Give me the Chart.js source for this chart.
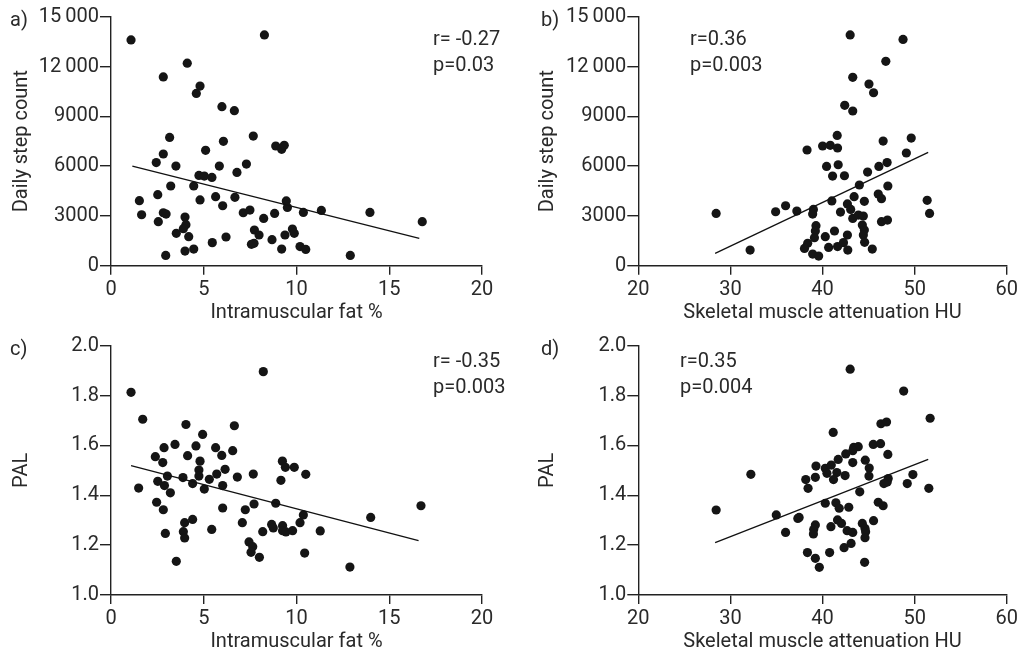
<!DOCTYPE html>
<html><head><meta charset="utf-8">
<script src="https://cdn.jsdelivr.net/npm/chart.js@4.4.1/dist/chart.umd.min.js"></script>
<style>
html,body{margin:0;padding:0;background:#fff;}
body{width:1021px;height:654px;position:relative;overflow:hidden;font-family:Roboto,sans-serif;color:#2a2a2a;}
canvas{position:absolute;}
.lbl{position:absolute;font-size:20px;line-height:26px;white-space:nowrap;color:#2a2a2a;}
</style></head><body>
<canvas id="ca" width="515" height="327" style="left:0;top:0;width:515px;height:327px"></canvas>
<canvas id="cb" width="506" height="327" style="left:515px;top:0;width:506px;height:327px"></canvas>
<canvas id="cc" width="515" height="327" style="left:0;top:327px;width:515px;height:327px"></canvas>
<canvas id="cd" width="506" height="327" style="left:515px;top:327px;width:506px;height:327px"></canvas>
<div class="lbl" style="left:10px;top:6px">a)</div>
<div class="lbl" style="left:541px;top:6px">b)</div>
<div class="lbl" style="left:10px;top:335px">c)</div>
<div class="lbl" style="left:541px;top:335px">d)</div>
<div class="lbl" style="left:433px;top:25px">r= -0.27<br>p=0.03</div>
<div class="lbl" style="left:690px;top:25px">r=0.36<br>p=0.003</div>
<div class="lbl" style="left:433px;top:347px">r= -0.35<br>p=0.003</div>
<div class="lbl" style="left:680px;top:347px">r=0.35<br>p=0.004</div>
<script>
// ---- Data ----
const fatA = [1.08,8.27,4.11,2.82,4.80,4.60,5.98,6.65,3.16,7.67,6.06,8.88,9.20,9.34,2.82,5.10,2.44,3.50,5.84,7.30,6.79,4.74,5.03,5.44,3.22,4.46,2.52,1.53,4.80,5.64,6.68,6.02,9.45,9.51,1.65,2.82,2.97,2.55,3.99,4.04,3.90,3.52,4.19,7.13,7.49,8.23,8.82,7.73,7.98,7.57,7.71,8.68,9.38,9.78,9.88,9.20,10.19,6.20,5.46,4.46,3.99,2.95,10.37,11.34,13.96,16.78,10.5,12.9];
const stepsA = [13600,13900,12200,11370,10820,10380,9580,9340,7730,7810,7490,7210,7010,7250,6730,6950,6210,6000,6000,6120,5620,5440,5400,5320,4800,4800,4280,3920,3960,4160,4120,3610,3900,3510,3070,3190,3110,2650,2930,2470,2230,1950,1750,3190,3350,2850,3150,2150,1850,1290,1350,1570,1850,2210,1950,1000,1150,1730,1390,1000,880,620,3210,3330,3210,2650,980,620];
const huB = [28.45,32.14,34.91,35.99,43.0,48.74,46.87,43.28,45.04,45.54,42.41,43.28,41.59,49.63,46.58,38.32,40.01,40.84,41.63,49.1,40.44,41.70,46.12,47.01,41.09,42.38,44.89,44.0,47.09,46.05,46.4,51.36,51.62,41.01,43.43,42.70,44.54,43.06,37.21,39.01,38.93,41.95,43.28,43.89,44.43,46.4,47.05,39.29,39.22,39.12,44.32,44.54,44.43,40.30,41.30,42.70,38.39,38.04,40.66,41.63,42.27,42.74,44.57,45.4,38.93,39.58];
const stepsB = [3150,940,3250,3610,13900,13630,12310,11350,10940,10420,9660,9320,7850,7690,7510,6970,7210,7250,7090,6790,5980,6080,5980,6210,5400,5420,5640,4860,4800,4320,4040,3940,3150,3900,4160,3720,3880,3390,3290,3390,3110,3230,2850,3050,2990,2650,2750,2410,2090,1690,2450,2150,1850,1750,2090,1850,1350,1040,1100,1150,1390,940,1410,1000,700,580];
const fatC = [1.08,8.21,1.71,4.04,6.65,4.94,3.45,2.86,4.58,5.64,6.56,2.39,4.13,5.97,2.79,4.80,9.24,9.40,9.88,4.74,6.15,5.70,7.67,3.04,3.88,4.74,6.81,5.30,2.52,9.16,4.40,2.88,6.02,1.49,5.03,3.20,2.46,2.82,6.02,7.71,7.24,8.88,3.97,4.40,7.08,2.93,3.90,3.97,5.43,8.18,8.66,8.75,9.25,9.25,9.43,9.79,10.19,7.44,7.64,7.55,8.0,3.52,10.5,10.37,11.28,14.0,16.71,10.44,12.88];
const palC = [1.813,1.896,1.705,1.684,1.679,1.644,1.604,1.591,1.598,1.591,1.579,1.555,1.559,1.560,1.531,1.537,1.537,1.512,1.512,1.501,1.504,1.485,1.485,1.477,1.471,1.477,1.473,1.464,1.456,1.460,1.447,1.439,1.439,1.429,1.425,1.410,1.372,1.342,1.349,1.365,1.342,1.368,1.290,1.303,1.290,1.247,1.254,1.229,1.263,1.254,1.283,1.269,1.278,1.258,1.253,1.258,1.290,1.213,1.194,1.171,1.151,1.135,1.484,1.321,1.257,1.311,1.358,1.168,1.112];
const huD = [28.45,32.22,34.98,35.99,37.32,43.0,48.81,51.68,46.34,46.95,41.16,45.51,46.3,43.38,43.88,43.28,42.52,41.70,47.09,44.64,43.28,39.29,40.30,40.95,45.07,40.48,41.55,42.45,45.04,38.18,39.22,41.19,38.43,47.13,47.02,46.66,49.81,49.20,51.54,44.04,40.30,41.45,41.81,42.85,46.05,46.58,37.46,41.63,42.06,39.22,39.04,39.01,40.91,42.67,43.28,44.32,44.61,44.68,44.61,45.54,43.10,42.34,38.36,40.77,39.22,39.65,44.57];
const palD = [1.341,1.484,1.321,1.251,1.307,1.906,1.818,1.709,1.687,1.694,1.652,1.604,1.607,1.592,1.595,1.579,1.566,1.544,1.564,1.541,1.531,1.517,1.508,1.521,1.509,1.488,1.491,1.479,1.477,1.463,1.472,1.463,1.428,1.467,1.453,1.447,1.483,1.447,1.428,1.414,1.368,1.370,1.348,1.352,1.372,1.358,1.311,1.301,1.287,1.281,1.263,1.245,1.274,1.258,1.251,1.287,1.267,1.254,1.230,1.298,1.207,1.190,1.170,1.170,1.147,1.111,1.131];

// regression lines (end points)
const fitAX = [1.15, 16.62], fitAY = [6000, 1650];
const fitBX = [28.34, 51.47], fitBY = [740, 6830];
const fitCX = [1.08, 16.58], fitCY = [1.519, 1.218];
const fitDX = [28.34, 51.47], fitDY = [1.210, 1.544];

// tick labels
const stepTicks = ['0','3000','6000','9000','12\u2009000','15\u2009000'];
const palTicks = ['1.0','1.2','1.4','1.6','1.8','2.0'];
const fatTicks = ['0','5','10','15','20'];
const huTicks = ['20','30','40','50','60'];

const TXT = '#2a2a2a', AX = '#222';
const FONT = {family:'Roboto, sans-serif', size:20, lineHeight:1.2};

function pts(xs, ys){ return xs.map((x,i)=>({x:x, y:ys[i]})); }

function panel(id, o){
  new Chart(document.getElementById(id), {
    type:'scatter',
    data:{datasets:[
      {data:pts(o.xs,o.ys), backgroundColor:'#151515', borderWidth:0, pointRadius:4.6, pointHoverRadius:4.6, order:2},
      {type:'line', data:pts(o.fx,o.fy), borderColor:'#111', borderWidth:1.3, pointRadius:0, fill:false, order:1}
    ]},
    options:{
      responsive:false, animation:false, devicePixelRatio:1,
      plugins:{legend:{display:false}, tooltip:{enabled:false}},
      layout:{padding:o.pad},
      scales:{
        x:{type:'linear', min:o.xMin, max:o.xMax,
           ticks:{stepSize:o.xStep, color:TXT, font:FONT, padding:3, maxRotation:0, callback:(v,i)=>o.xLabels[i]},
           grid:{display:true, drawOnChartArea:false, drawTicks:true, tickLength:9, color:AX, lineWidth:1.4},
           border:{display:true, color:AX, width:1.4},
           title:{display:true, text:o.xTitle, color:TXT, font:FONT, padding:{top:0,bottom:o.xTitlePad}},
           afterFit:s=>{s.height=o.xH;}},
        y:{type:'linear', min:o.yMin, max:o.yMax,
           ticks:{stepSize:o.yStep, color:TXT, font:FONT, padding:1, callback:(v,i)=>o.yLabels[i]},
           grid:{display:true, drawOnChartArea:false, drawTicks:true, tickLength:11, color:AX, lineWidth:1.4},
           border:{display:true, color:AX, width:1.4},
           title:{display:true, text:o.yTitle, color:TXT, font:FONT, padding:{top:o.yTitlePad,bottom:0}},
           afterFit:s=>{s.width=o.yW;}}
      }
    }
  });
}

panel('ca',{xs:fatA, ys:stepsA, fx:fitAX, fy:fitAY, xMin:0,xMax:20,xStep:5,xLabels:fatTicks,
  yMin:0,yMax:15000,yStep:3000,yLabels:stepTicks, xTitle:'Intramuscular fat %', yTitle:'Daily step count',
  pad:{left:0,right:33,top:16.7,bottom:0}, xH:61.3, yW:111, xTitlePad:2, yTitlePad:9.5});
panel('cb',{xs:huB, ys:stepsB, fx:fitBX, fy:fitBY, xMin:20,xMax:60,xStep:10,xLabels:huTicks,
  yMin:0,yMax:15000,yStep:3000,yLabels:stepTicks, xTitle:'Skeletal muscle attenuation HU', yTitle:'Daily step count',
  pad:{left:0,right:11.7,top:16.7,bottom:0}, xH:61.3, yW:123.3, xTitlePad:2, yTitlePad:21});
panel('cc',{xs:fatC, ys:palC, fx:fitCX, fy:fitCY, xMin:0,xMax:20,xStep:5,xLabels:fatTicks,
  yMin:1.0,yMax:2.0,yStep:0.2,yLabels:palTicks, xTitle:'Intramuscular fat %', yTitle:'PAL',
  pad:{left:0,right:33,top:18.7,bottom:0}, xH:59, yW:111, xTitlePad:0, yTitlePad:9.5});
panel('cd',{xs:huD, ys:palD, fx:fitDX, fy:fitDY, xMin:20,xMax:60,xStep:10,xLabels:huTicks,
  yMin:1.0,yMax:2.0,yStep:0.2,yLabels:palTicks, xTitle:'Skeletal muscle attenuation HU', yTitle:'PAL',
  pad:{left:0,right:11.7,top:18.7,bottom:0}, xH:59, yW:123.3, xTitlePad:0, yTitlePad:21});
</script>
</body></html>
